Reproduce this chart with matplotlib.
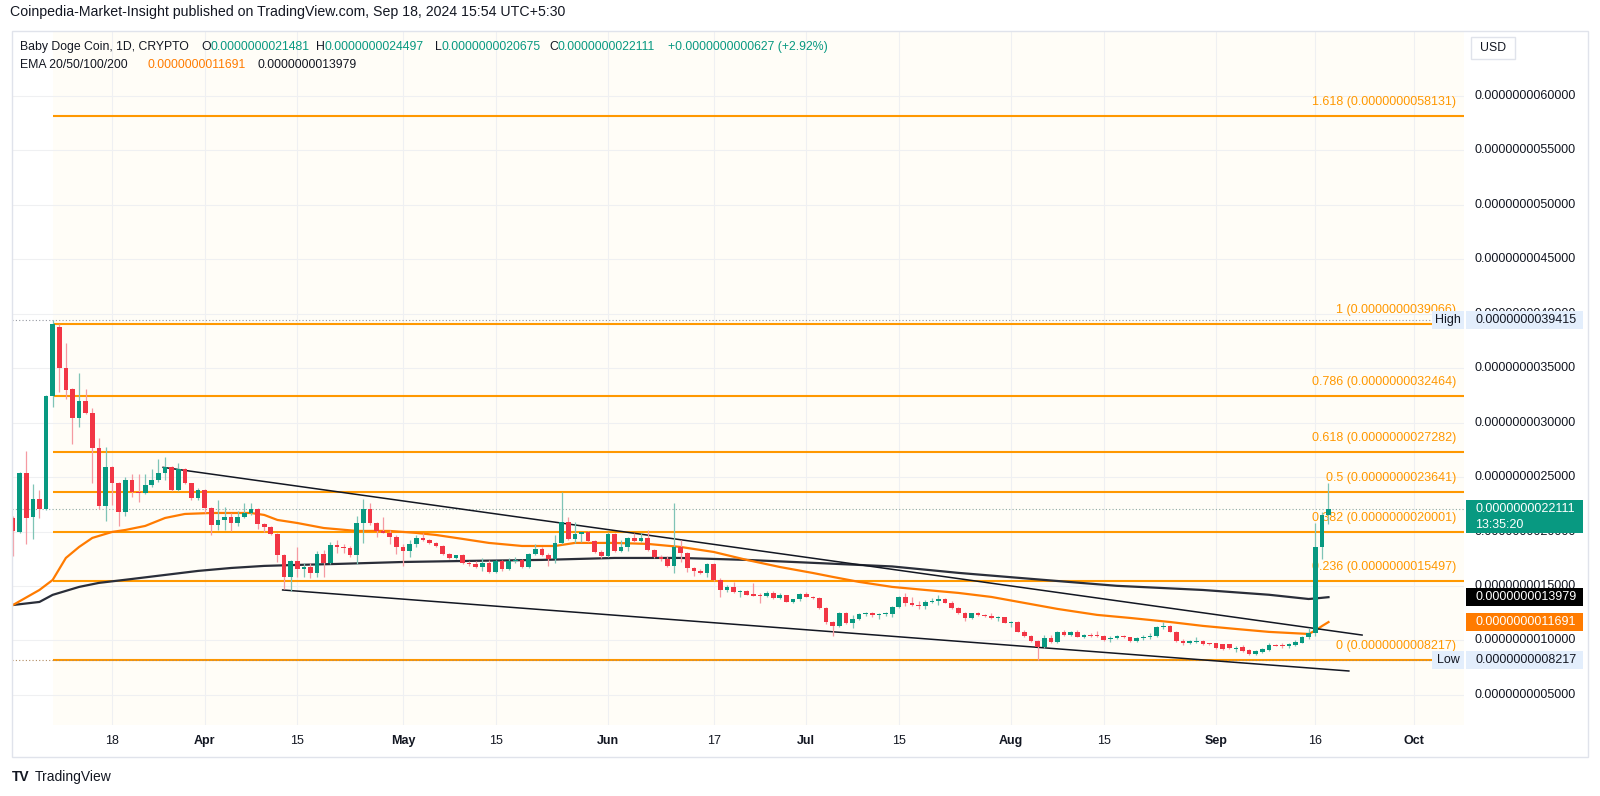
import numpy as np
import pandas as pd
import matplotlib
matplotlib.use("Agg")
import matplotlib.pyplot as plt
import matplotlib.dates as mdates
from matplotlib.patches import Rectangle
from matplotlib.transforms import blended_transform_factory

plt.rcParams["font.family"] = ["Liberation Sans", "DejaVu Sans"]

# prices are in units of 1e-9 (labels are formatted back to full decimals)
start_day = "2024-03-03"

opens = [2.125, 1.997, 2.538, 2.134, 2.299, 2.208, 3.245, 3.879, 3.502, 3.309,
         3.043, 3.199, 3.089, 2.768, 2.235, 2.593, 2.446, 2.180, 2.474, 2.364,
         2.355, 2.428, 2.474, 2.538, 2.593, 2.382, 2.575, 2.446, 2.309, 2.382,
         2.217, 2.061, 2.107, 2.134, 2.079, 2.134, 2.171, 2.208, 2.070, 2.043,
         1.978, 1.786, 1.584, 1.731, 1.657, 1.675, 1.620, 1.795, 1.712, 1.878,
         1.859, 1.850, 1.786, 2.079, 2.208, 2.079, 2.006, 1.988, 1.951, 1.859,
         1.822, 1.887, 1.942, 1.923, 1.896, 1.868, 1.795, 1.758, 1.786, 1.712,
         1.703, 1.675, 1.712, 1.630, 1.731, 1.657, 1.731, 1.740, 1.675, 1.795,
         1.841, 1.786, 1.749, 1.896, 2.088, 1.933, 1.978, 1.997, 1.914, 1.813,
         1.776, 1.978, 1.822, 1.859, 1.942, 1.914, 1.942, 1.831, 1.767, 1.749,
         1.685, 1.859, 1.804, 1.666, 1.639, 1.620, 1.703, 1.556, 1.464, 1.492,
         1.446, 1.455, 1.419, 1.412, 1.405, 1.437, 1.391, 1.419, 1.354, 1.382,
         1.428, 1.400, 1.391, 1.299, 1.170, 1.134, 1.253, 1.161, 1.198, 1.244,
         1.253, 1.232, 1.240, 1.246, 1.308, 1.400, 1.345, 1.327, 1.317, 1.354,
         1.363, 1.382, 1.345, 1.299, 1.253, 1.207, 1.250, 1.235, 1.226, 1.207,
         1.214, 1.161, 1.172, 1.079, 1.042, 0.996, 0.941, 1.024, 0.987, 1.079,
         1.051, 1.079, 1.033, 1.051, 1.045, 1.038, 1.010, 1.024, 1.042, 1.033,
         0.996, 1.020, 1.030, 1.042, 1.125, 1.134, 1.079, 0.996, 0.978, 0.987,
         0.996, 0.969, 0.975, 0.968, 0.965, 0.923, 0.941, 0.914, 0.877, 0.895,
         0.914, 0.960, 0.960, 0.945, 0.960, 0.980, 1.030, 1.065, 1.859, 2.1481]

highs = [2.143, 2.545, 2.740, 2.437, 2.382, 3.254, 3.9415, 3.906, 3.732, 3.320,
         3.456, 3.309, 3.135, 2.860, 2.777, 2.600, 2.455, 2.502, 2.529, 2.529,
         2.529, 2.575, 2.667, 2.685, 2.600, 2.630, 2.580, 2.450, 2.400, 2.391,
         2.225, 2.290, 2.226, 2.171, 2.189, 2.263, 2.263, 2.215, 2.075, 2.050,
         1.988, 1.790, 1.735, 1.859, 1.712, 1.712, 1.822, 1.831, 1.905, 1.923,
         1.887, 1.868, 2.143, 2.299, 2.263, 2.085, 2.134, 2.015, 1.969, 1.887,
         1.923, 1.969, 1.988, 1.935, 1.905, 1.878, 1.800, 1.767, 1.790, 1.731,
         1.731, 1.758, 1.740, 1.740, 1.740, 1.758, 1.767, 1.745, 1.804, 1.887,
         1.859, 1.804, 1.969, 2.364, 2.134, 2.088, 2.000, 2.005, 1.923, 1.831,
         1.997, 1.988, 1.923, 1.951, 1.988, 1.988, 2.015, 1.841, 1.786, 1.776,
         2.263, 1.923, 1.813, 1.675, 1.657, 1.712, 1.710, 1.575, 1.510, 1.538,
         1.460, 1.460, 1.529, 1.437, 1.455, 1.455, 1.437, 1.422, 1.385, 1.437,
         1.446, 1.409, 1.400, 1.308, 1.175, 1.262, 1.262, 1.235, 1.253, 1.262,
         1.262, 1.253, 1.262, 1.317, 1.405, 1.437, 1.400, 1.363, 1.373, 1.391,
         1.419, 1.391, 1.363, 1.308, 1.262, 1.253, 1.262, 1.240, 1.253, 1.226,
         1.216, 1.180, 1.180, 1.097, 1.051, 1.005, 1.051, 1.051, 1.088, 1.097,
         1.085, 1.097, 1.060, 1.070, 1.088, 1.051, 1.042, 1.050, 1.055, 1.035,
         1.030, 1.051, 1.070, 1.134, 1.170, 1.140, 1.085, 1.015, 1.005, 1.033,
         1.000, 0.975, 0.980, 0.970, 0.970, 0.950, 0.960, 0.923, 0.910, 0.930,
         0.975, 0.965, 0.978, 0.980, 1.000, 1.045, 1.115, 2.079, 2.180, 2.4497]

lows = [1.776, 1.990, 1.887, 1.933, 2.125, 2.200, 3.144, 3.282, 3.218, 2.804,
        2.960, 3.080, 2.446, 2.208, 2.098, 2.244, 2.052, 2.143, 2.318, 2.272,
        2.346, 2.410, 2.455, 2.474, 2.375, 2.373, 2.440, 2.290, 2.290, 2.171,
        1.969, 2.015, 2.015, 2.006, 2.052, 2.125, 2.153, 2.024, 1.997, 1.970,
        1.721, 1.474, 1.455, 1.584, 1.584, 1.575, 1.584, 1.584, 1.705, 1.804,
        1.804, 1.767, 1.703, 1.896, 2.061, 1.951, 1.985, 1.887, 1.795, 1.685,
        1.767, 1.859, 1.914, 1.890, 1.860, 1.786, 1.749, 1.749, 1.703, 1.685,
        1.670, 1.639, 1.620, 1.620, 1.639, 1.650, 1.712, 1.666, 1.666, 1.786,
        1.776, 1.685, 1.712, 1.887, 1.923, 1.896, 1.905, 1.905, 1.804, 1.758,
        1.770, 1.813, 1.813, 1.822, 1.905, 1.905, 1.822, 1.760, 1.731, 1.675,
        1.620, 1.721, 1.630, 1.593, 1.611, 1.584, 1.547, 1.400, 1.446, 1.437,
        1.400, 1.415, 1.405, 1.345, 1.398, 1.382, 1.382, 1.350, 1.345, 1.363,
        1.398, 1.385, 1.290, 1.152, 1.040, 1.125, 1.152, 1.115, 1.189, 1.226,
        1.216, 1.198, 1.226, 1.216, 1.300, 1.317, 1.317, 1.290, 1.290, 1.345,
        1.327, 1.340, 1.290, 1.244, 1.180, 1.200, 1.226, 1.220, 1.198, 1.180,
        1.158, 1.125, 1.075, 1.033, 0.987, 0.8217, 0.935, 0.978, 0.978, 1.042,
        1.045, 1.030, 1.025, 1.033, 1.033, 0.996, 0.987, 1.015, 1.025, 0.990,
        0.985, 1.000, 1.015, 1.033, 1.106, 1.075, 0.990, 0.960, 0.970, 0.978,
        0.960, 0.960, 0.925, 0.915, 0.920, 0.895, 0.890, 0.868, 0.870, 0.885,
        0.905, 0.945, 0.932, 0.935, 0.950, 0.975, 1.015, 1.040, 1.749, 2.0675]

closes = [2.006, 2.538, 2.125, 2.299, 2.208, 3.245, 3.906, 3.502, 3.300, 3.043,
          3.199, 3.089, 2.768, 2.235, 2.593, 2.446, 2.180, 2.474, 2.364, 2.355,
          2.428, 2.474, 2.538, 2.593, 2.382, 2.575, 2.446, 2.309, 2.382, 2.217,
          2.061, 2.107, 2.134, 2.079, 2.134, 2.171, 2.208, 2.070, 2.043, 1.978,
          1.786, 1.584, 1.731, 1.657, 1.675, 1.620, 1.795, 1.712, 1.878, 1.859,
          1.850, 1.786, 2.079, 2.208, 2.079, 2.006, 1.988, 1.951, 1.859, 1.822,
          1.887, 1.942, 1.923, 1.896, 1.868, 1.795, 1.758, 1.786, 1.712, 1.703,
          1.675, 1.712, 1.630, 1.731, 1.657, 1.731, 1.740, 1.675, 1.795, 1.841,
          1.786, 1.749, 1.896, 2.088, 1.933, 1.978, 1.997, 1.914, 1.813, 1.776,
          1.978, 1.822, 1.859, 1.942, 1.914, 1.942, 1.831, 1.767, 1.749, 1.685,
          1.859, 1.804, 1.666, 1.639, 1.620, 1.703, 1.556, 1.464, 1.492, 1.446,
          1.455, 1.419, 1.412, 1.405, 1.437, 1.391, 1.419, 1.354, 1.382, 1.428,
          1.400, 1.391, 1.299, 1.170, 1.134, 1.253, 1.161, 1.198, 1.244, 1.253,
          1.232, 1.240, 1.246, 1.308, 1.400, 1.345, 1.327, 1.317, 1.354, 1.363,
          1.382, 1.345, 1.299, 1.253, 1.207, 1.250, 1.235, 1.226, 1.207, 1.214,
          1.161, 1.172, 1.079, 1.042, 0.996, 0.941, 1.024, 0.987, 1.079, 1.051,
          1.079, 1.033, 1.051, 1.042, 1.038, 1.005, 1.024, 1.042, 1.033, 0.996,
          1.024, 1.030, 1.042, 1.125, 1.134, 1.079, 0.996, 0.978, 0.996, 0.996,
          0.969, 0.965, 0.935, 0.925, 0.928, 0.932, 0.904, 0.877, 0.904, 0.923,
          0.960, 0.950, 0.950, 0.969, 0.987, 1.030, 1.070, 1.859, 2.148, 2.2111]

# EMA lines
ema50_dates = ["2024-03-03", "2024-03-07", "2024-03-09", "2024-03-11", "2024-03-13",
               "2024-03-15", "2024-03-18", "2024-03-20", "2024-03-23", "2024-03-26",
               "2024-03-29", "2024-04-02", "2024-04-08", "2024-04-10", "2024-04-12",
               "2024-04-15", "2024-04-19", "2024-04-24", "2024-04-29", "2024-05-03",
               "2024-05-06", "2024-05-10", "2024-05-14", "2024-05-19", "2024-05-24",
               "2024-05-27", "2024-06-02", "2024-06-07", "2024-06-12", "2024-06-17",
               "2024-06-22", "2024-06-27", "2024-07-02", "2024-07-05", "2024-07-09",
               "2024-07-14", "2024-07-19", "2024-07-24", "2024-07-29", "2024-08-03",
               "2024-08-08", "2024-08-14", "2024-08-19", "2024-08-25", "2024-08-30",
               "2024-09-04", "2024-09-09", "2024-09-15", "2024-09-16", "2024-09-17",
               "2024-09-18"]
ema50_values = [1.326, 1.464, 1.556, 1.758, 1.859, 1.942, 1.997, 2.015, 2.052, 2.125,
                2.162, 2.171, 2.171, 2.153, 2.107, 2.079, 2.033, 2.006, 2.006, 1.988,
                1.969, 1.933, 1.896, 1.868, 1.868, 1.896, 1.896, 1.887, 1.859, 1.813,
                1.740, 1.675, 1.620, 1.584, 1.538, 1.492, 1.464, 1.437, 1.400, 1.345,
                1.290, 1.235, 1.207, 1.170, 1.134, 1.106, 1.079, 1.060, 1.091, 1.132,
                1.1691]

ema200_dates = ["2024-03-03", "2024-03-07", "2024-03-09", "2024-03-13", "2024-03-16",
                "2024-03-21", "2024-03-26", "2024-03-31", "2024-04-05", "2024-04-10",
                "2024-04-15", "2024-04-21", "2024-04-26", "2024-05-01", "2024-05-11",
                "2024-05-22", "2024-06-02", "2024-06-12", "2024-06-22", "2024-07-05",
                "2024-07-14", "2024-07-24", "2024-08-04", "2024-08-17", "2024-08-30",
                "2024-09-09", "2024-09-15", "2024-09-16", "2024-09-17", "2024-09-18"]
ema200_values = [1.326, 1.354, 1.419, 1.492, 1.529, 1.565, 1.602, 1.639, 1.666, 1.685,
                 1.694, 1.703, 1.712, 1.721, 1.731, 1.740, 1.758, 1.758, 1.740, 1.705,
                 1.680, 1.621, 1.566, 1.502, 1.464, 1.420, 1.381, 1.386, 1.392, 1.3979]

fib_ratios = ["0", "0.236", "0.382", "0.5", "0.618", "0.786", "1", "1.618"]
fib_prices = [0.8217, 1.5497, 2.0001, 2.3641, 2.7282, 3.2464, 3.9066, 5.8131]
fib_start = "2024-03-09"

trend_upper = (("2024-03-25 17:00", 2.590), ("2024-09-23 02:00", 1.050))
trend_lower = (("2024-04-12 19:00", 1.464), ("2024-09-21 02:00", 0.720))

high_price, low_price = 3.9415, 0.8217
last_price, ema_fast_last, ema_slow_last = 2.2111, 1.1691, 1.3979

y_ticks = [0.5, 1.0, 1.5, 2.0, 2.5, 3.0, 3.5, 4.0, 4.5, 5.0, 5.5, 6.0]
x_tick_dates = ["2024-03-18", "2024-04-01", "2024-04-15", "2024-05-01", "2024-05-15",
                "2024-06-01", "2024-06-17", "2024-07-01", "2024-07-15", "2024-08-01",
                "2024-08-15", "2024-09-01", "2024-09-16", "2024-10-01"]
x_tick_labels = ["18", "Apr", "15", "May", "15", "Jun", "17", "Jul", "15", "Aug",
                 "15", "Sep", "16", "Oct"]

GREEN, RED = "#089981", "#f23645"
GREEN_WICK, RED_WICK = "#7fc4b6", "#f59aa2"
FIB = "#ff9800"
EMA_ORANGE = "#ff7b00"
TXT = "#131722"

W, H = 1600, 796
fig = plt.figure(figsize=(W / 100, H / 100), dpi=100)
fig.patch.set_facecolor("white")
ax = fig.add_axes([12 / W, 1 - 725 / H, 1452 / W, 694 / H])
for s in ax.spines.values():
    s.set_visible(False)
ax.set_xticks([])
ax.set_yticks([])

d0 = mdates.date2num(pd.Timestamp(start_day))
ax.set_xlim(d0 - 0.15, d0 + 219.5)
ax.set_ylim(0.224, 6.597)
x_right = ax.get_xlim()[1]

# fib background and grid
fib_x0 = mdates.date2num(pd.Timestamp(fib_start))
ax.axvspan(fib_x0, x_right, color="#fffdf7", lw=0, zorder=0)
for v in y_ticks:
    ax.axhline(v, color="#eff0f2", lw=0.8, zorder=0.5)
xt = mdates.date2num(pd.to_datetime(x_tick_dates))
for d in xt:
    ax.axvline(d, color="#eff0f2", lw=0.8, zorder=0.5)

# fib levels
ax.hlines(fib_prices, fib_x0, x_right, color=FIB, lw=1.5, zorder=1)
for r, p in zip(fib_ratios, fib_prices):
    ax.annotate(f"{r} ({p * 1e-9:.13f})", xy=(x_right, p), xytext=(-8, 14),
                textcoords="offset pixels", ha="right", va="center",
                color=FIB, fontsize=9, zorder=1.5)

# dotted reference lines
dot = (0, (1, 2))
ax.axhline(high_price, xmax=(1432 - 12) / 1452, color="#9598a1", lw=0.8, ls=dot, zorder=1.6)
ax.axhline(low_price, xmax=(1432 - 12) / 1452, color="#b08a60", lw=0.8, ls=dot, zorder=1.6)
ax.axhline(last_price, color="#8fa9a4", lw=0.8, ls=dot, zorder=1.6)

# EMAs
ax.plot(pd.to_datetime(ema200_dates), ema200_values, color="#2a2e39", lw=1.6, zorder=2.4)
ax.plot(pd.to_datetime(ema50_dates), ema50_values, color=EMA_ORANGE, lw=1.6, zorder=2.5)

# trendlines
for (t1, v1), (t2, v2) in (trend_upper, trend_lower):
    ax.plot(pd.to_datetime([t1, t2]), [v1, v2], color=TXT, lw=1.1, zorder=2.6)

# candles
dates = mdates.date2num(pd.date_range(start_day, periods=len(opens), freq="D"))
o, h, l, c = map(np.array, (opens, highs, lows, closes))
up = c >= o
ax.vlines(dates, l, h, colors=np.where(up, GREEN_WICK, RED_WICK), lw=0.9, zorder=3)
ax.bar(dates, np.maximum(np.abs(c - o), 0.012), bottom=np.minimum(o, c), width=0.7,
       color=np.where(up, GREEN, RED), lw=0, zorder=3.1)

# price axis labels
ytrans = blended_transform_factory(ax.transAxes, ax.transData)
for v in y_ticks:
    ax.annotate(f"{v * 1e-9:.13f}", xy=(1, v), xycoords=ytrans, xytext=(11, 0),
                textcoords="offset pixels", ha="left", va="center", color=TXT,
                fontsize=9, annotation_clip=False, zorder=5)

btrans = blended_transform_factory(fig.transFigure, ax.transData)
px = 1 / 108.9


def price_box(x0, x1, top, bottom, color, zorder=6):
    r = Rectangle((x0 / W, bottom), (x1 - x0) / W, top - bottom, transform=btrans,
                  facecolor=color, edgecolor="none", clip_on=False, zorder=zorder)
    ax.add_patch(r)


def box_text(x, v, s, color, ha="left"):
    ax.text(x / W, v, s, transform=btrans, ha=ha, va="center", color=color,
            fontsize=9, clip_on=False, zorder=7)


for name, p in (("High", high_price), ("Low", low_price)):
    price_box(1432, 1464, p + 9 * px, p - 9 * px, "#e3eefc")
    price_box(1466, 1583, p + 9 * px, p - 9 * px, "#e3eefc")
    box_text(1448, p, name, TXT, ha="center")
    box_text(1475, p, f"{p * 1e-9:.13f}", TXT)

price_box(1466, 1583, last_price + 8.5 * px, last_price - 24.5 * px, GREEN)
box_text(1475, last_price, f"{last_price * 1e-9:.13f}", "white")
box_text(1475, last_price - 16.5 * px, "13:35:20", "white")

price_box(1466, 1583, ema_slow_last + 9 * px, ema_slow_last - 9 * px, "#000000")
box_text(1475, ema_slow_last, f"{ema_slow_last * 1e-9:.13f}", "white")
price_box(1466, 1583, ema_fast_last + 9 * px, ema_fast_last - 9 * px, EMA_ORANGE)
box_text(1475, ema_fast_last, f"{ema_fast_last * 1e-9:.13f}", "white")

# time axis labels
xtrans = blended_transform_factory(ax.transData, fig.transFigure)
for d, lab in zip(xt, x_tick_labels):
    ax.text(d, 1 - 741 / H, lab, transform=xtrans, ha="center", va="center",
            color=TXT, fontsize=9, fontweight="bold" if lab.isalpha() else "normal",
            clip_on=False)

# frame
fig.add_artist(Rectangle((12 / W, 1 - 757 / H), 1576 / W, 726 / H, transform=fig.transFigure,
                         fill=False, ec="#e0e3eb", lw=1))

# header and legend
fig.text(10 / W, 1 - 12 / H, "Coinpedia-Market-Insight published on TradingView.com, "
         "Sep 18, 2024 15:54 UTC+5:30", ha="left", va="center", color=TXT, fontsize=10.2)

renderer = fig.canvas.get_renderer()


def put_pieces(x_px, y_px, pieces, size=8.8):
    x = x_px
    for s, col in pieces:
        t = fig.text(x / W, 1 - y_px / H, s, ha="left", va="center", color=col, fontsize=size)
        x += t.get_window_extent(renderer=renderer).width


put_pieces(20, 47, [("Baby Doge Coin, 1D, CRYPTO", TXT)])
put_pieces(201, 47, [("O", TXT), ("0.0000000021481", GREEN)])
put_pieces(316, 47, [("H", TXT), ("0.0000000024497", GREEN)])
put_pieces(435, 47, [("L", TXT), ("0.0000000020675", GREEN)])
put_pieces(549, 47, [("C", TXT), ("0.0000000022111", GREEN)])
put_pieces(668, 47, [("+0.0000000000627 (+2.92%)", GREEN)])
put_pieces(20, 65, [("EMA 20/50/100/200", TXT)])
put_pieces(147, 65, [("0.0000000011691", EMA_ORANGE)])
put_pieces(258, 65, [("0.0000000013979", TXT)])

# currency tag
fig.add_artist(Rectangle((1471 / W, 1 - 59 / H), 44 / W, 22 / H, transform=fig.transFigure,
                         fill=False, ec="#e0e3eb", lw=1))
fig.text(1493 / W, 1 - 48 / H, "USD", ha="center", va="center", color=TXT, fontsize=8.8)

# footer logo
fig.text(12 / W, 1 - 777 / H, "TV", ha="left", va="center", color=TXT, fontsize=10,
         fontweight="bold")
fig.text(35 / W, 1 - 777 / H, "TradingView", ha="left", va="center", color=TXT, fontsize=10)

fig.savefig("out.png", dpi=100, facecolor="white")
